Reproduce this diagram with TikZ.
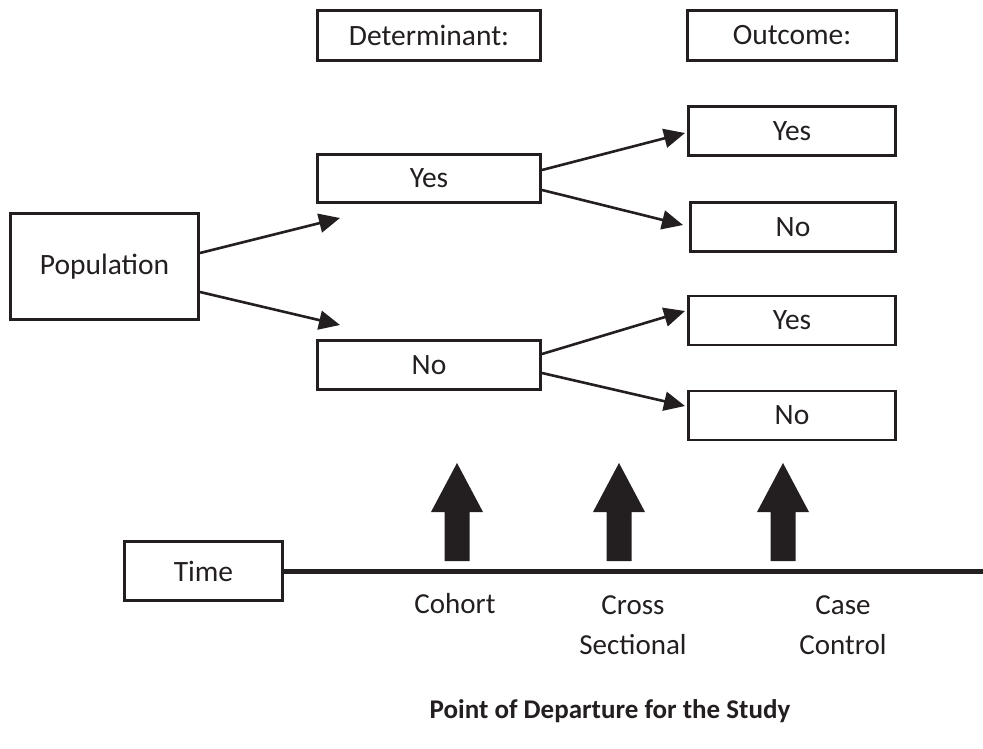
\documentclass[tikz,border=0pt]{standalone}
\usepackage{fontspec}
\setmainfont{Carlito}
\usetikzlibrary{arrows.meta}
\definecolor{ink}{RGB}{35,31,32}
\begin{document}
\begin{tikzpicture}[x=1pt,y=-1pt,
  box/.style n args={2}{draw=ink, line width=2.6pt, minimum width=#1, minimum height=#2,
    inner sep=0pt, text=ink, font=\fontsize{29.5}{34}\selectfont},
  link/.style={draw=ink, line width=2.6pt, -{Triangle[length=21pt,width=19pt]}},
  lbl/.style={text=ink, align=center, inner sep=0pt, font=\fontsize{29}{40}\selectfont},
  bigarrow/.style={fill=ink, draw=none}]
\useasboundingbox (0,0) rectangle (983,749);

% header boxes
\node[box={223pt}{50pt}] (det) at (429,35.5) {Determinant:};
\node[box={209pt}{50pt}] (out) at (792,35.5) {Outcome:};

% population and determinant
\node[box={188pt}{106pt}] (pop) at (104.5,266.5) {Population};
\node[box={223pt}{48pt}] (dyes) at (429,178.5) {Yes};
\node[box={223pt}{49pt}] (dno) at (429,365) {No};

% outcomes
\node[box={207pt}{49pt}] (oy1) at (792,131) {Yes};
\node[box={205pt}{49pt}] (on1) at (793,227) {No};
\node[box={207pt}{49pt}] (oy2) at (792,320.5) {Yes};
\node[box={207pt}{49pt}] (on2) at (792,415.5) {No};

% time
\node[box={158pt}{59pt}] (time) at (203.5,571) {Time};

% connector end points
\coordinate (p1s) at (200,253);  \coordinate (p1e) at (340,218);
\coordinate (p2s) at (200,292);  \coordinate (p2e) at (340,325);
\coordinate (y1s) at (542,170);  \coordinate (y1e) at (685,133);
\coordinate (y2s) at (542,190);  \coordinate (y2e) at (683,225);
\coordinate (n1s) at (542,354);  \coordinate (n1e) at (685,311);
\coordinate (n2s) at (542,373);  \coordinate (n2e) at (685,406);
\coordinate (tend) at (983,571);

\draw[link] (p1s) -- (p1e);
\draw[link] (p2s) -- (p2e);
\draw[link] (y1s) -- (y1e);
\draw[link] (y2s) -- (y2e);
\draw[link] (n1s) -- (n1e);
\draw[link] (n2s) -- (n2e);

% time line
\draw[ink, line width=5pt] (time.east) -- (tend);

% big upward arrows
\foreach \cx in {457,619,783}{
  \fill[bigarrow] (\cx-12.5,561) -- (\cx-12.5,512) -- (\cx-26,512) -- (\cx,463)
     -- (\cx+26,512) -- (\cx+12.5,512) -- (\cx+12.5,561) -- cycle;
}

% labels
\node[lbl] (cohort) at (455,604) {Cohort};
\node[lbl] (cross) at (633,625) {Cross\\Sectional};
\node[lbl] (case) at (843,625) {Case\\Control};
\node[lbl, font=\fontsize{27}{34}\selectfont\bfseries] (pod) at (610,711) {Point of Departure for the Study};
\end{tikzpicture}
\end{document}
